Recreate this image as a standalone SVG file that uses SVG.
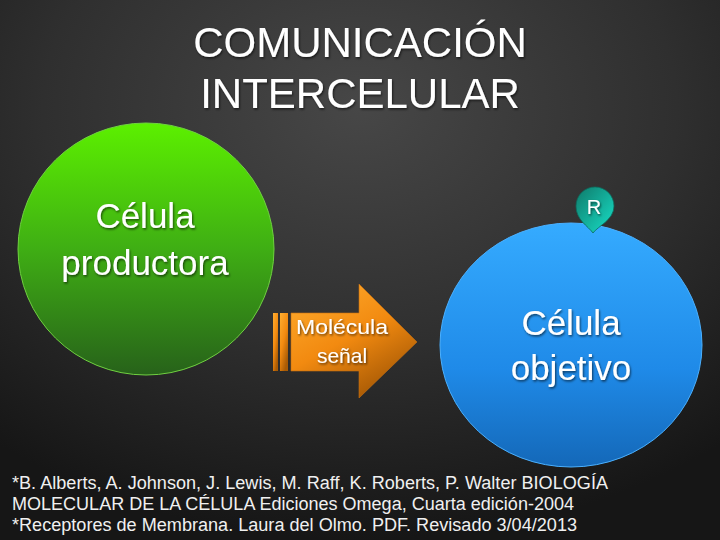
<svg xmlns="http://www.w3.org/2000/svg" width="720" height="540" viewBox="0 0 720 540">
<defs>
<radialGradient id="bg" cx="0.5" cy="0.2" r="0.8">
<stop offset="0" stop-color="#474747"/>
<stop offset="0.55" stop-color="#2f2f2f"/>
<stop offset="1" stop-color="#161616"/>
</radialGradient>
<linearGradient id="green" x1="0" y1="0" x2="0" y2="1">
<stop offset="0" stop-color="#5cf000"/>
<stop offset="0.5" stop-color="#3fae14"/>
<stop offset="1" stop-color="#27621a"/>
</linearGradient>
<linearGradient id="blue" x1="0" y1="0" x2="0" y2="1">
<stop offset="0" stop-color="#35abff"/>
<stop offset="0.6" stop-color="#1f8ae8"/>
<stop offset="1" stop-color="#1468b8"/>
</linearGradient>
<linearGradient id="orange" x1="0" y1="0" x2="0.6" y2="1">
<stop offset="0" stop-color="#ffae30"/>
<stop offset="0.55" stop-color="#f28a10"/>
<stop offset="1" stop-color="#a85a05"/>
</linearGradient>
<linearGradient id="teal" x1="0" y1="0" x2="1" y2="1">
<stop offset="0" stop-color="#0f7a6a"/>
<stop offset="1" stop-color="#18e0c8"/>
</linearGradient>
<filter id="sh" x="-10%" y="-10%" width="120%" height="130%">
<feDropShadow dx="1" dy="1.5" stdDeviation="1" flood-color="#000" flood-opacity="0.6"/>
</filter>
<style>
.t{font-family:"Liberation Sans",Arial,sans-serif;fill:#ffffff;text-anchor:middle;filter:url(#sh)}
.f{font-family:"Liberation Sans",Arial,sans-serif;fill:#f0f0f0;font-size:18px}
</style>
</defs>
<rect width="720" height="540" fill="url(#bg)"/>
<g id="title">
<text class="t" x="360" y="57" font-size="42">COMUNICACIÓN</text>
<text class="t" x="360" y="108" font-size="42">INTERCELULAR</text>
</g>
<g id="celula-productora">
<ellipse cx="146" cy="249" rx="128" ry="126" fill="url(#green)" stroke="#6fd040" stroke-width="1"/>
<text class="t" x="145" y="228" font-size="35">Célula</text>
<text class="t" x="145" y="275" font-size="35">productora</text>
</g>
<g id="celula-objetivo">
<ellipse cx="571" cy="345" rx="131" ry="122" fill="url(#blue)" stroke="#4ab0ff" stroke-width="1"/>
<text class="t" x="571" y="335" font-size="35">Célula</text>
<text class="t" x="571" y="380" font-size="35">objetivo</text>
</g>
<g id="receptor">
<path d="M593,233 C588,226 576,220 576,206 A19,19 0 1 1 614,206 C614,220 598,226 593,233 Z" fill="url(#teal)" stroke="#0c6a5c" stroke-width="0.8"/>
<text class="t" x="594" y="214" font-size="20">R</text>
</g>
<g id="connectors">
<g id="molecula-senal">
<rect x="273" y="313" width="5" height="58" fill="url(#orange)"/>
<rect x="280" y="313" width="8" height="58" fill="url(#orange)"/>
<path d="M291,313 H359 V284 L417,342 L359,398 V371 H291 Z" fill="url(#orange)" stroke="#c87010" stroke-width="0.6"/>
<text class="t" x="342" y="334" font-size="21" textLength="92" lengthAdjust="spacingAndGlyphs">Molécula</text>
<text class="t" x="342" y="363" font-size="21">señal</text>
</g>
</g>
<g id="footer">
<text class="f" x="12" y="489" textLength="596" lengthAdjust="spacingAndGlyphs">*B. Alberts, A. Johnson, J. Lewis, M. Raff, K. Roberts, P. Walter BIOLOGÍA</text>
<text class="f" x="12" y="510" textLength="562" lengthAdjust="spacingAndGlyphs">MOLECULAR DE LA CÉLULA Ediciones Omega, Cuarta edición-2004</text>
<text class="f" x="12" y="531" textLength="565" lengthAdjust="spacingAndGlyphs">*Receptores de Membrana. Laura del Olmo. PDF. Revisado 3/04/2013</text>
</g>
</svg>
